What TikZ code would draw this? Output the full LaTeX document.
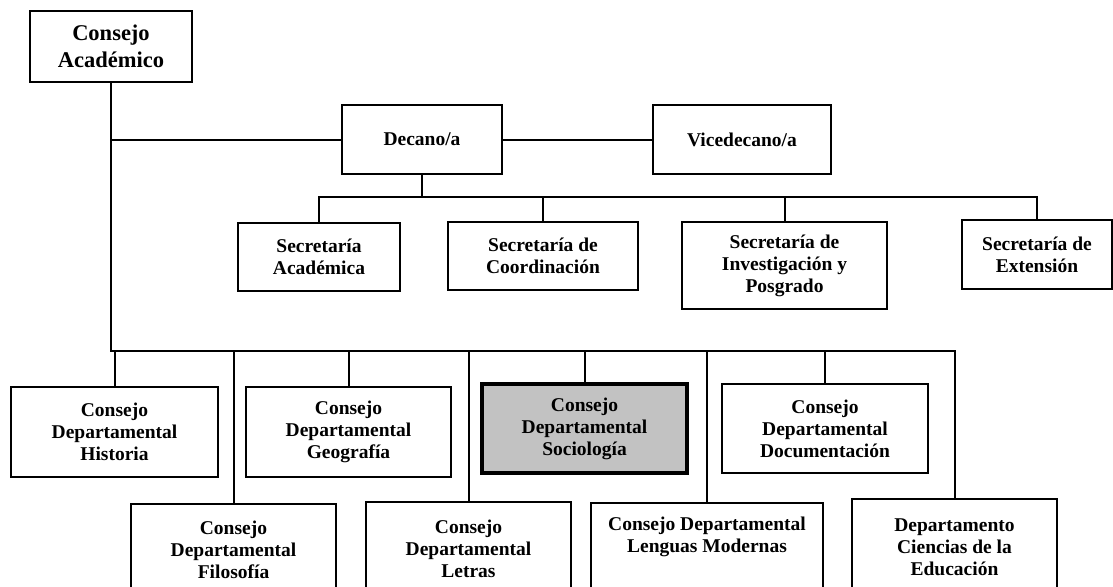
\documentclass[tikz,border=0pt]{standalone}
\usepackage{fontspec}
\setmainfont{Liberation Serif}
\begin{document}
\begin{tikzpicture}[x=1pt,y=-1pt,line width=2pt,
	box/.style={draw,align=center,inner sep=0pt,font=\bfseries\fontsize{19.5}{22}\selectfont},
	topbox/.style={box,font=\bfseries\fontsize{22.5}{26.5}\selectfont},
	mark box/.style={box,line width=4pt,fill=black!24}]
	\useasboundingbox (0,0) rectangle (1113,586);
	\clip (0,0) rectangle (1113,586);

	\begin{scope}
		\node[topbox,minimum width=162,minimum height=71] (acad) at (111,46.5) {Consejo\\Académico};
		\node[box,minimum width=160,minimum height=69] (decano) at (422,139.5) {Decano/a};
		\node[box,minimum width=178,minimum height=69] (vice) at (742,139.5) {Vicedecano/a};
	\end{scope}

	\begin{scope}
		\node[box,minimum width=162,minimum height=68] (secacad) at (319,257) {Secretaría\\Académica};
		\node[box,minimum width=190,minimum height=68] (seccoord) at (543,256) {Secretaría de\\Coordinación};
		\node[box,minimum width=205,minimum height=87] (secinv) at (784.5,265.5) {Secretaría de\\Investigación y\\Posgrado};
		\node[box,minimum width=150,minimum height=69] (secext) at (1037,254.5) {Secretaría de\\Extensión};
	\end{scope}

	\begin{scope}
		\node[box,minimum width=207,minimum height=90] (historia) at (114.5,432) {Consejo\\Departamental\\Historia};
		\node[box,minimum width=205,minimum height=90] (geografia) at (348.5,431.5) {Consejo\\Departamental\\Geografía};
		\node[mark box,minimum width=205,minimum height=89] (sociologia) at (584.5,428.5) {Consejo\\Departamental\\Sociología};
		\node[box,minimum width=206,minimum height=89] (documentacion) at (825,428.5) {Consejo\\Departamental\\Documentación};

		\node[box,minimum width=205,minimum height=92] (filosofia) at (233.5,550) {Consejo\\Departamental\\Filosofía};
		\node[box,minimum width=205,minimum height=94] (letras) at (468.5,549) {Consejo\\Departamental\\Letras};
		\node[box,minimum width=232,minimum height=93] (lenguas) at (707,549.5) {Consejo Departamental\\Lenguas Modernas\\\strut};
		\node[box,minimum width=205,minimum height=97] (educacion) at (954.5,547.5) {Departamento\\Ciencias de la\\Educación};
	\end{scope}

	\begin{scope}
		\coordinate (bus) at (113,351);
		\coordinate (secbus) at (0,197);
		\draw (acad.south) -- (acad.south |- bus) -| (educacion.north);
		\draw (acad.south |- decano.west) -- (decano.west);
		\draw (decano.east) -- (vice.west);
		\draw (decano.south) -- (decano.south |- secbus);
		\draw (secacad.north) |- (secbus -| secext.north) -- (secext.north);
		\foreach \n in {seccoord,secinv}
			\draw (\n.north) -- (\n.north |- secbus);
		\foreach \n in {historia,geografia,sociologia,documentacion,filosofia,letras,lenguas}
			\draw (\n.north) -- (\n.north |- bus);
	\end{scope}
\end{tikzpicture}
\end{document}
